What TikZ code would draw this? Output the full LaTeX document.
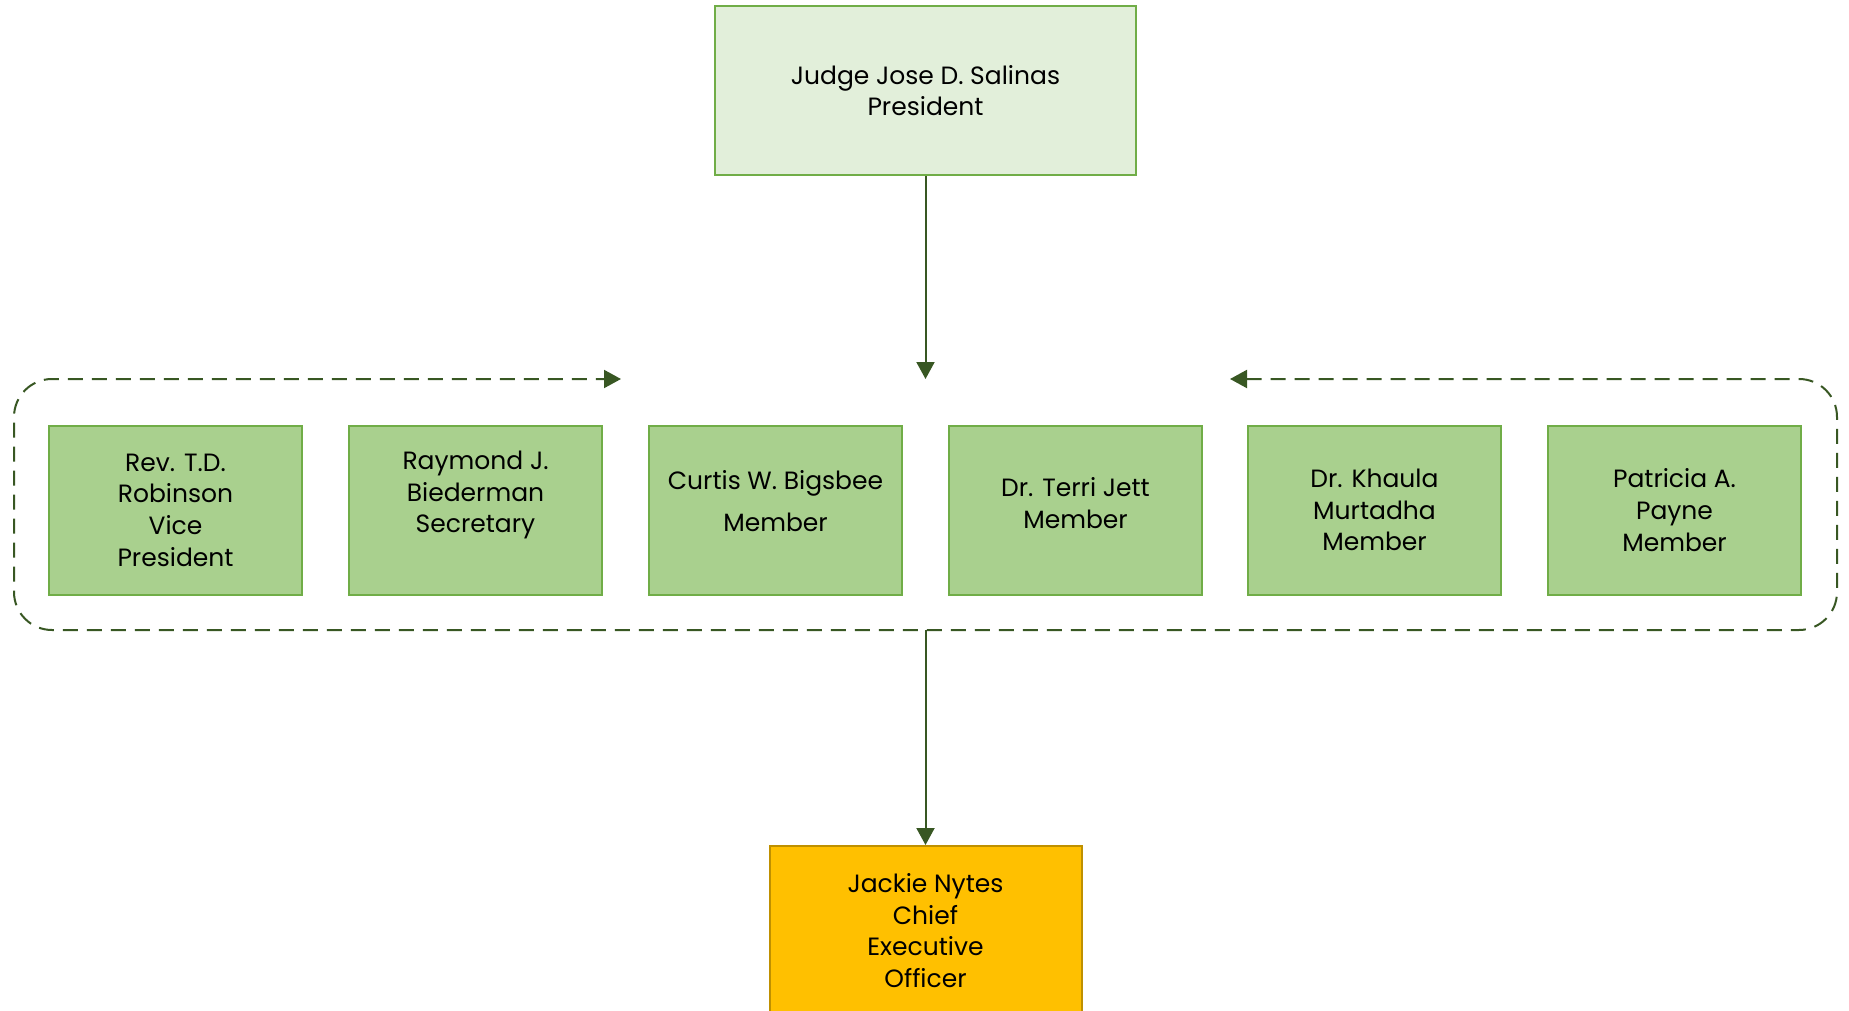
\documentclass[tikz,border=0pt]{standalone}
\usepackage{fontspec}
\setmainfont{Poppins}
\usetikzlibrary{arrows.meta,calc}
\definecolor{bdLight}{RGB}{226,239,218}
\definecolor{bdMid}{RGB}{169,208,142}
\definecolor{bdEdge}{RGB}{112,173,71}
\definecolor{bdArrow}{RGB}{56,87,35}
\definecolor{ceoFill}{RGB}{255,192,0}
\definecolor{ceoEdge}{RGB}{191,144,0}

\begin{document}
\begin{tikzpicture}[x=0.5pt,y=-0.5pt,font=\fontsize{12.5}{15.8}\selectfont,
  box/.style={draw=bdEdge,line width=1pt,minimum width=126.5pt,minimum height=84.5pt,
              inner sep=0,align=center},
  member/.style={box,fill=bdMid},
  link/.style={bdArrow,line width=1pt,-{Triangle[width=9pt,length=8.5pt]}},
  frame/.style={bdArrow,line width=1pt,dash pattern=on 7.5pt off 4.5pt,rounded corners=19pt,
                {Triangle[width=9pt,length=8.5pt]}-{Triangle[width=9pt,length=8.5pt]}}]

  \clip (0,0) rectangle (1849,1011);

  % ---- president ----
  \node[box,fill=bdLight,minimum width=210.5pt] (pres) at (925.5,90.5)
    {Judge Jose D. Salinas\\President};

  % ---- board members ----
  \foreach \x/\t/\dy [count=\i] in
    {175.5/{Rev. T.D.\\Robinson\\Vice\\President}/0,
     475.5/{Raymond J.\\Biederman\\Secretary}/-15,
     775.5/{Curtis W. Bigsbee\\[5pt]Member}/-9,
     1075.5/{Dr. Terri Jett\\Member}/-7,
     1374.5/{Dr. Khaula\\Murtadha\\Member}/0,
     1674.5/{Patricia A.\\Payne\\Member}/0}{
    \node[member] (m\i) at (\x,510) {};
    \node[align=center] (t\i) at ($(m\i)+(0,\dy)$) {\t};}

  \draw[frame] (1230,379) -| (1837,630) -| (14,379) -- (621,379);
  \coordinate (frameT) at (925.5,379);
  \coordinate (frameB) at (925.5,630);

  % ---- chief executive ----
  \node[box,fill=ceoFill,draw=ceoEdge,minimum width=156pt] (ceo) at (925.5,930.5)
    {Jackie Nytes\\Chief\\Executive\\Officer};

  \draw[link] (pres) -- (frameT);
  \draw[link] (frameB) -- (ceo);

\end{tikzpicture}
\end{document}
